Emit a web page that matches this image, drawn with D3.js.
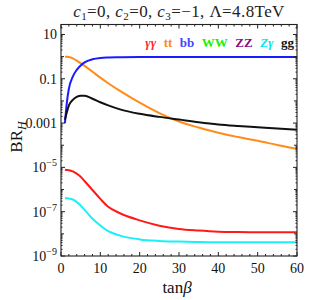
<!DOCTYPE html>
<html>
<head>
<meta charset="utf-8">
<script src="https://cdn.jsdelivr.net/npm/d3@7"></script>
<style>
  body { margin: 0; background: #fff; }
  svg { display: block; }
</style>
</head>
<body>
<div id="chart"></div>
<script>
// tan(beta) sample points shared by every curve
const tanb = [1, 1.5, 2, 3, 4, 5, 6, 8, 10, 12, 15, 20, 25, 30, 35, 40, 45, 50, 55, 60];

// log10(BR_H), one array per channel
const logTT = [-0.01, -0.01, -0.02, -0.08, -0.18, -0.30, -0.42, -0.68, -0.95, -1.20, -1.55, -2.08, -2.55, -2.93, -3.20, -3.44, -3.63, -3.80, -3.99, -4.17];
const logBB = [-3.00, -2.05, -1.45, -0.90, -0.60, -0.40, -0.26, -0.12, -0.06, -0.04, -0.03, -0.02, -0.02, -0.02, -0.02, -0.02, -0.02, -0.02, -0.02, -0.02];
const logGG = [-2.85, -2.50, -2.20, -1.95, -1.82, -1.77, -1.77, -1.90, -2.06, -2.20, -2.38, -2.58, -2.72, -2.84, -2.96, -3.06, -3.13, -3.19, -3.25, -3.30];
const logAA = [-5.11, -5.12, -5.13, -5.18, -5.28, -5.42, -5.62, -6.02, -6.42, -6.78, -7.07, -7.39, -7.63, -7.78, -7.85, -7.90, -7.92, -7.93, -7.93, -7.93];
const logZA = [-6.39, -6.39, -6.40, -6.45, -6.56, -6.72, -6.92, -7.32, -7.62, -7.88, -8.08, -8.25, -8.32, -8.35, -8.37, -8.38, -8.38, -8.38, -8.38, -8.38];

// legend
const legendNames = ["γγ", "tt", "bb", "WW", "ZZ", "Zγ", "gg"];
const legendColors = ["#ff2a2a", "#ff8a1c", "#4444ff", "#22ee00", "#8a0f8a", "#00e8f0", "#111111"];

// tick values
const xTicks = [0, 10, 20, 30, 40, 50, 60];
const yTickExps = [1, -1, -3, -5, -7, -9];

const width = 327, height = 300;
const margin = {top: 24.5, right: 30, bottom: 44, left: 61};
const serif = "'Liberation Serif', 'DejaVu Serif', serif";

const svg = d3.select("#chart").append("svg")
    .attr("width", width)
    .attr("height", height);

const x = d3.scaleLinear().domain([0, 60]).range([margin.left, width - margin.right]);
const y = d3.scaleLog().domain([1e-9, Math.pow(10, 1.45)]).range([height - margin.bottom, margin.top]);

// curves
const series = [
  {vals: logTT, color: "#ff8c1a"},
  {vals: logBB, color: "#1a1aff"},
  {vals: logGG, color: "#111111"},
  {vals: logAA, color: "#ff1a1a"},
  {vals: logZA, color: "#1af0f8"}
];

const line = d3.line()
    .x(d => x(d[0]))
    .y(d => y(d[1]))
    .curve(d3.curveMonotoneX);

svg.append("g")
  .selectAll("path")
  .data(series)
  .join("path")
    .attr("fill", "none")
    .attr("stroke", d => d.color)
    .attr("stroke-width", 2)
    .attr("stroke-linejoin", "round")
    .attr("d", d => line(tanb.map((t, i) => [t, Math.pow(10, d.vals[i])])));

// frame
const x0 = x.range()[0], x1 = x.range()[1];
const y0 = y.range()[0], y1 = y.range()[1];
svg.append("rect")
    .attr("x", x0).attr("y", y1)
    .attr("width", x1 - x0).attr("height", y0 - y1)
    .attr("fill", "none")
    .attr("stroke", "#222")
    .attr("stroke-width", 1.1);

// ticks
const ticks = svg.append("g").attr("stroke", "#222").attr("stroke-width", 1);
const xMinor = d3.range(0, 61, 2);
xMinor.forEach(v => {
  const len = v % 10 === 0 ? 4 : 2;
  ticks.append("line").attr("x1", x(v)).attr("x2", x(v)).attr("y1", y0).attr("y2", y0 - len);
  ticks.append("line").attr("x1", x(v)).attr("x2", x(v)).attr("y1", y1).attr("y2", y1 + len);
});
for (let e = -9; e <= 1; e++) {
  for (let k = 1; k <= 9; k++) {
    const v = k * Math.pow(10, e);
    if (v > y.domain()[1]) continue;
    const major = k === 1 && yTickExps.includes(e);
    const len = major ? 4 : (k === 1 ? 3 : 1.5);
    ticks.append("line").attr("x1", x0).attr("x2", x0 + len).attr("y1", y(v)).attr("y2", y(v));
    ticks.append("line").attr("x1", x1).attr("x2", x1 - len).attr("y1", y(v)).attr("y2", y(v));
  }
}

// x tick labels
svg.append("g")
    .attr("font-family", serif)
    .attr("font-size", 14)
    .attr("fill", "#111")
    .attr("text-anchor", "middle")
  .selectAll("text")
  .data(xTicks)
  .join("text")
    .attr("x", d => x(d))
    .attr("y", y0 + 17)
    .text(d => d);

// y tick labels
const yl = svg.append("g")
    .attr("font-family", serif)
    .attr("font-size", 14)
    .attr("fill", "#111")
    .attr("text-anchor", "end");
yTickExps.forEach(e => {
  const t = yl.append("text").attr("x", x0 - 4).attr("y", y(Math.pow(10, e)) + 5);
  if (e === 1) t.text("10");
  else if (e === -1) t.text("0.1");
  else if (e === -3) t.text("0.001");
  else {
    t.append("tspan").text("10");
    t.append("tspan").attr("font-size", 10).attr("dy", -6).text("−" + (-e));
  }
});

// axis titles
svg.append("text")
    .attr("x", x((0 + 60) / 2) - 2)
    .attr("y", 293)
    .attr("text-anchor", "middle")
    .attr("font-family", serif)
    .attr("font-size", 17)
    .attr("fill", "#111")
    .call(t => {
      t.append("tspan").text("tan");
      t.append("tspan").attr("font-style", "italic").text("β");
    });

svg.append("text")
    .attr("transform", "translate(22,137) rotate(-90)")
    .attr("text-anchor", "middle")
    .attr("font-family", serif)
    .attr("font-size", 17)
    .attr("fill", "#111")
    .call(t => {
      t.append("tspan").text("BR");
      t.append("tspan").attr("font-style", "italic").attr("font-size", 12).attr("dy", 4).text("H");
    });

// title
const title = svg.append("text")
    .attr("x", 179)
    .attr("y", 17)
    .attr("text-anchor", "middle")
    .attr("font-family", serif)
    .attr("font-size", 17)
    .attr("letter-spacing", 0.4)
    .attr("fill", "#222");
const titleParts = [["c", "1", "=0, "], ["c", "2", "=0, "], ["c", "3", "=−1, "]];
titleParts.forEach(p => {
  title.append("tspan").attr("font-style", "italic").text(p[0]);
  title.append("tspan").attr("font-size", 11).attr("dy", 3).text(p[1]);
  title.append("tspan").attr("dy", -3).text(p[2]);
});
title.append("tspan").text("Λ=4.8TeV");

// legend, flowing right-to-left from the frame's right edge
const leg = svg.append("g")
    .attr("font-family", serif)
    .attr("font-size", 13)
    .attr("font-weight", "bold");
let lx = x1 - 3;
for (let i = legendNames.length - 1; i >= 0; i--) {
  const t = leg.append("text")
      .attr("x", lx)
      .attr("y", 47)
      .attr("text-anchor", "end")
      .attr("fill", legendColors[i])
      .attr("font-style", legendNames[i].includes("γ") ? "italic" : "normal")
      .text(legendNames[i]);
  lx -= t.node().getComputedTextLength() + 7.5;
}
</script>
</body>
</html>
